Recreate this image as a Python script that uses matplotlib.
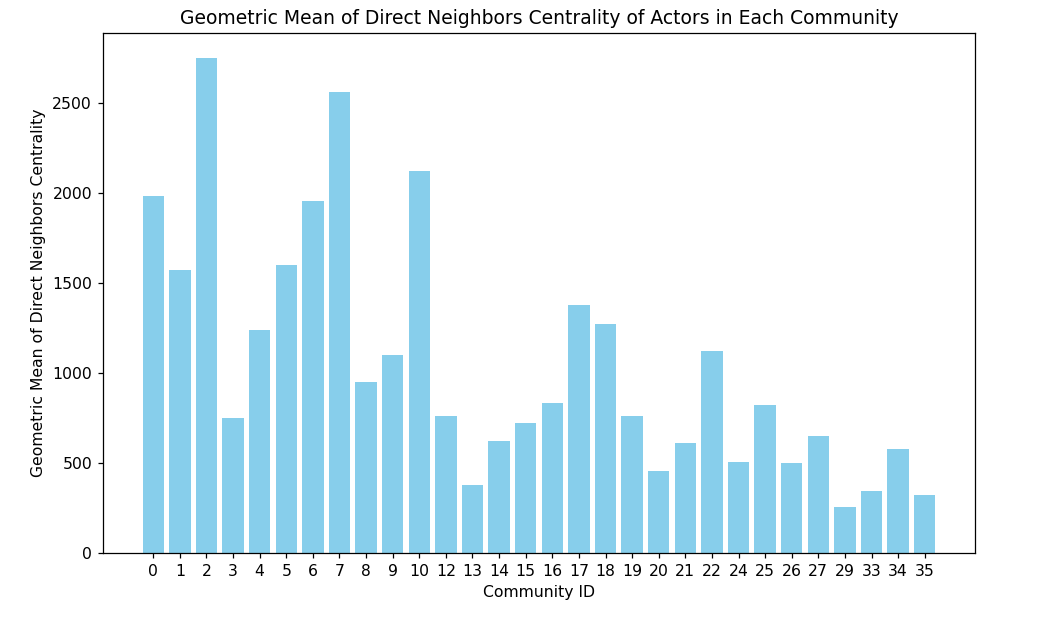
import matplotlib
matplotlib.use("Agg")
import matplotlib.pyplot as plt

community_ids = ["0", "1", "2", "3", "4", "5", "6", "7", "8", "9", "10", "12", "13", "14",
                 "15", "16", "17", "18", "19", "20", "21", "22", "24", "25", "26", "27",
                 "29", "33", "34", "35"]
values = [1983, 1570, 2750, 752, 1239, 1602, 1952, 2558, 952, 1102, 2119, 758, 376, 621,
          721, 832, 1376, 1271, 763, 458, 613, 1121, 508, 821, 502, 647,
          258, 344, 576, 321]

DPI = 112.7
W, H = 1053, 622
fig = plt.figure(figsize=(W / DPI, H / DPI), dpi=DPI)
ax = fig.add_axes([103 / W, (H - 553) / H, (975 - 103) / W, (553 - 33) / H])
ax.bar(community_ids, values, color="skyblue")
ax.set_title("Geometric Mean of Direct Neighbors Centrality of Actors in Each Community")
ax.set_xlabel("Community ID")
ax.set_ylabel("Geometric Mean of Direct Neighbors Centrality")
fig.savefig("out.png", dpi=DPI)
